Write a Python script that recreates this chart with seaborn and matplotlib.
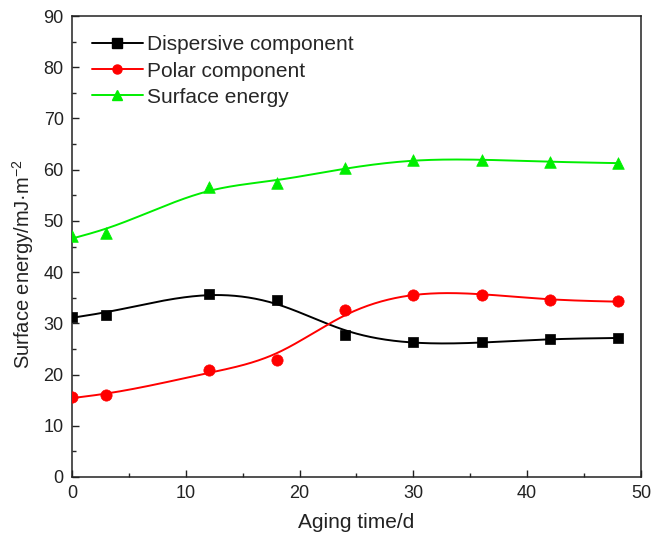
import numpy as np
import pandas as pd
import matplotlib
matplotlib.use("Agg")
import matplotlib.pyplot as plt
from matplotlib.lines import Line2D
import seaborn as sns

# ---- data ----
aging_days = [0, 3, 12, 18, 24, 30, 36, 42, 48]
dispersive = [31.3, 31.7, 35.7, 34.5, 27.8, 26.3, 26.3, 27.0, 27.1]
polar = [15.6, 16.0, 20.9, 22.8, 32.6, 35.6, 35.6, 34.5, 34.3]
surface = [47.0, 47.7, 56.6, 57.4, 60.3, 61.9, 61.9, 61.5, 61.3]
series_names = ["Dispersive component", "Polar component", "Surface energy"]
x_ticks = [0, 10, 20, 30, 40, 50]
y_ticks = [0, 10, 20, 30, 40, 50, 60, 70, 80, 90]


def smoothing_spline(x, y, lam, xs):
    """Reinsch cubic smoothing spline evaluated at xs."""
    x = np.asarray(x, float)
    y = np.asarray(y, float)
    n = len(x)
    h = np.diff(x)
    Q = np.zeros((n, n - 2))
    R = np.zeros((n - 2, n - 2))
    for j in range(1, n - 1):
        Q[j - 1, j - 1] = 1 / h[j - 1]
        Q[j, j - 1] = -1 / h[j - 1] - 1 / h[j]
        Q[j + 1, j - 1] = 1 / h[j]
        R[j - 1, j - 1] = (h[j - 1] + h[j]) / 3
        if j < n - 2:
            R[j - 1, j] = h[j] / 6
            R[j, j - 1] = h[j] / 6
    A = R + lam * Q.T @ Q
    gamma = np.linalg.solve(A, Q.T @ y)
    g = y - lam * Q @ gamma
    M = np.zeros(n)
    M[1:-1] = gamma
    out = np.empty_like(xs)
    for k, xv in enumerate(xs):
        i = min(max(np.searchsorted(x, xv) - 1, 0), n - 2)
        t1 = x[i + 1] - xv
        t0 = xv - x[i]
        hi = h[i]
        out[k] = (M[i] * t1 ** 3 + M[i + 1] * t0 ** 3) / (6 * hi) \
            + (g[i] / hi - M[i] * hi / 6) * t1 \
            + (g[i + 1] / hi - M[i + 1] * hi / 6) * t0
    return out


sns.set_theme(style="ticks")
plt.rcParams["font.family"] = ["Liberation Sans", "DejaVu Sans"]
plt.rcParams["mathtext.fontset"] = "custom"
plt.rcParams["mathtext.rm"] = "Liberation Sans"
plt.rcParams["mathtext.it"] = "Liberation Sans"

fig = plt.figure(figsize=(6.51, 5.41), dpi=100)
ax = fig.add_axes([0.1106, 0.1183, 0.874, 0.852])

colors = ["#000000", "#ff0000", "#00ee00"]
markers = ["s", "o", "^"]
msizes = [52, 66, 70]
data = [dispersive, polar, surface]

xs = np.linspace(0, 48, 400)
handles = []
for name, vals, c, m, s in zip(series_names, data, colors, markers, msizes):
    curve = smoothing_spline(aging_days, vals, 15.0, xs)
    sns.lineplot(x=xs, y=curve, ax=ax, color=c, lw=1.4, legend=False)
    sns.scatterplot(x=aging_days, y=vals, ax=ax, color=c, marker=m, s=s,
                    edgecolor=c, linewidth=0.5, legend=False, zorder=3)
    handles.append(Line2D([0], [0], color=c, lw=1.4, marker=m,
                          markersize=6.5, markeredgecolor=c, label=name))

ax.set_xlim(0, 50)
ax.set_ylim(0, 90)
ax.set_xticks(x_ticks)
ax.set_yticks(y_ticks)
ax.set_xticks([5, 15, 25, 35, 45], minor=True)
ax.set_yticks([5, 15, 25, 35, 45, 55, 65, 75, 85], minor=True)
ax.tick_params(axis="both", which="major", direction="in", length=5, width=1,
               labelsize=13, colors="#222222", labelcolor="#222222",
               top=False, right=False, pad=6)
ax.tick_params(axis="both", which="minor", direction="in", length=3, width=1,
               top=False, right=False)
for sp in ax.spines.values():
    sp.set_visible(True)
    sp.set_color("#222222")
    sp.set_linewidth(1.1)

ax.set_xlabel("Aging time/d", fontsize=15, color="#222222", labelpad=8)
ax.set_ylabel("Surface energy/mJ·m$^{-2}$", fontsize=14.5, color="#222222")
ax.yaxis.set_label_coords(-0.063, 0.462)

ax.legend(handles=handles, loc="upper left", frameon=False, fontsize=15,
          handlelength=2.45, handletextpad=0.2, labelspacing=0.34,
          borderaxespad=0.0, borderpad=0.0, bbox_to_anchor=(0.035, 0.958))

fig.savefig("out.png", dpi=100)
